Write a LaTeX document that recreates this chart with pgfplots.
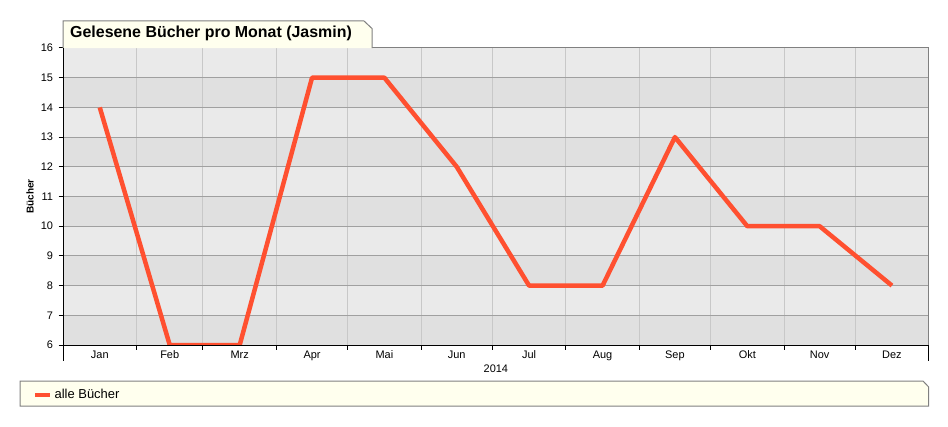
\documentclass[border=0pt]{standalone}
\usepackage{pgfplots}
\pgfplotsset{compat=1.18}
\usepackage{fontspec}
\setmainfont{Liberation Sans}
\definecolor{linec}{HTML}{FF5030}
\definecolor{bandlight}{HTML}{EAEAEA}
\definecolor{banddark}{HTML}{E0E0E0}
\definecolor{hgrid}{HTML}{A0A0A0}
\definecolor{vgrid}{HTML}{C8C8C8}
\definecolor{cream}{HTML}{FFFFEE}
\definecolor{framec}{HTML}{808080}
\begin{document}
\begin{tikzpicture}[x=1bp,y=1bp]
% title tab
\filldraw[fill=cream, draw=framec, line width=1bp] (63,378) -- (63,405) -- (364,405) -- (372,397.5) -- (372,378);
\node[anchor=west, inner sep=0pt, font=\fontsize{16}{18}\selectfont\bfseries] at (70,392.5) {Gelesene Bücher pro Monat (Jasmin)};
% legend box
\filldraw[fill=cream, draw=framec, line width=1bp] (20,45) -- (20,20) -- (928.7,20) -- (928.7,39) -- (923,45) -- cycle;
\begin{axis}[
  set layers,
  at={(63bp,81bp)}, anchor=south west,
  scale only axis, width=865.7bp, height=297bp,
  xmin=0, xmax=365, ymin=6, ymax=16,
  ytick={6,...,16},
  xtick={31,59,90,120,151,181,212,243,273,304,334},
  xticklabels={},
  extra x ticks={15.5,45,74.5,105,135.5,166,196.5,227.5,258,288.5,319,349.5},
  extra x tick labels={Jan,Feb,Mrz,Apr,Mai,Jun,Jul,Aug,Sep,Okt,Nov,Dez},
  extra x tick style={grid=none, major tick length=0pt, xticklabel style={yshift=-2.5bp}},
  xmajorgrids, ymajorgrids,
  x grid style={vgrid, line width=1bp},
  y grid style={hgrid, line width=1bp},
  axis line style={framec, line width=1bp},
  tick align=outside,
  xtick pos=bottom, ytick pos=left,
  major tick length=4.5bp,
  tick style={black, line width=1bp},
  /pgf/number format/assume math mode=true,
  tick label style={font=\fontsize{11}{13}\selectfont},
  yticklabel style={xshift=-2bp},
  xlabel={2014},
  xlabel style={font=\fontsize{11}{13}\selectfont, at={(axis description cs:0.5,-0.08)}, anchor=center},
  ylabel={Bücher},
  ylabel style={font=\fontsize{10}{12}\selectfont\bfseries, at={(axis description cs:-0.0381,0.5)}, anchor=center, rotate=0},
  legend style={at={(axis description cs:-0.0347,-0.168)}, anchor=west, draw=none, fill=none,
    font=\fontsize{13}{15}\selectfont, inner sep=0pt},
  legend cell align=left,
  legend image code/.code={\draw[line width=4.5bp, linec] (0bp,0bp) -- (15bp,0bp);},
]
\begin{pgfonlayer}{axis background}
  \fill[banddark] (axis cs:0,6) rectangle (axis cs:365,16);
  \fill[bandlight] (axis cs:0,7) rectangle (axis cs:365,8);
  \fill[bandlight] (axis cs:0,9) rectangle (axis cs:365,10);
  \fill[bandlight] (axis cs:0,11) rectangle (axis cs:365,12);
  \fill[bandlight] (axis cs:0,13) rectangle (axis cs:365,14);
  \fill[bandlight] (axis cs:0,15) rectangle (axis cs:365,16);
\end{pgfonlayer}
\addplot[linec, line width=4.5bp, line join=round] coordinates {
  (15.5,14) (45,6) (74.5,6) (105,15) (135.5,15) (166,12)
  (196.5,8) (227.5,8) (258,13) (288.5,10) (319,10) (349.5,8)
};
\addlegendentry{alle Bücher}
\end{axis}
\draw[black, line width=1bp] (63,378) -- (63,65);
\draw[black, line width=1bp] (63,81) -- (928.7,81) -- (928.7,65);
\pgfresetboundingbox
\path[use as bounding box] (0,0) rectangle (948,426);
\end{tikzpicture}
\end{document}
